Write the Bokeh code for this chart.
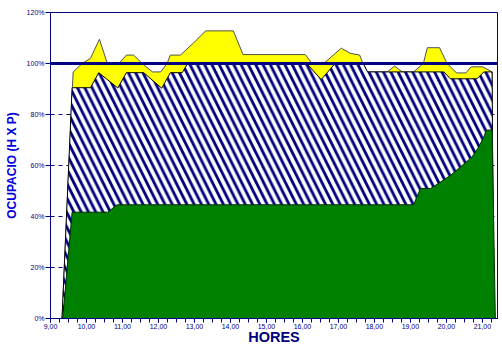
from bokeh.plotting import figure
from bokeh.models import FixedTicker, SingleIntervalTicker, Span, Range1d
from bokeh.embed import file_html
from bokeh.resources import INLINE

# ---- data (hours of day, occupancy %) ----
yellow_hours = [9.32, 9.61, 9.63, 9.88, 10.11, 10.36, 10.58, 10.90, 11.11, 11.31, 11.55,
                11.83, 12.06, 12.24, 12.33, 12.61, 12.97, 13.31, 14.08, 14.35, 16.08,
                16.27, 16.59, 17.08, 17.33, 17.59, 17.68, 17.80, 18.36, 18.56, 18.77,
                19.09, 19.36, 19.47, 19.81, 20.02, 20.28, 20.54, 20.69, 21.01, 21.27, 21.31]
yellow_pct = [0, 91, 96.7, 100, 102, 109.5, 100, 100, 103.3, 103.3, 100,
              96.7, 96.7, 100, 103.3, 103.3, 108, 112.8, 112.8, 103.5, 103.5,
              100, 100, 106, 104, 103.3, 100, 96.7, 96.7, 99, 96.7,
              96.7, 100, 106.2, 106.2, 100, 96.3, 96.3, 98.7, 98.7, 96.7, 0]

hatched_hours = [9.32, 9.60, 10.11, 10.34, 10.87, 11.11, 11.59, 12.09, 12.33, 12.66, 12.81,
                 16.12, 16.52, 16.91, 17.69, 17.81, 19.93, 20.11, 20.85, 21.04, 21.27, 21.31]
hatched_pct = [0, 90.5, 90.5, 96.4, 90.4, 96.4, 96.4, 90.3, 96.4, 96.4, 100,
               100, 93.7, 100, 100, 96.7, 96.7, 94, 94, 96.7, 96.7, 0]

green_hours = [9.34, 9.60, 10.59, 10.85, 19.09, 19.28, 19.56, 19.74, 20.11, 20.39,
               20.71, 20.90, 21.04, 21.11, 21.27, 21.36]
green_pct = [0, 41.7, 41.7, 44.6, 44.6, 51, 51, 52.6, 56.1, 59.4,
             63.3, 67.3, 71.2, 73.8, 74, 0]

x_ticks = [9, 10, 11, 12, 13, 14, 15, 16, 17, 18, 19, 20, 21]
x_tick_labels = ["9,00", "10,00", "11,00", "12,00", "13,00", "14,00", "15,00",
                 "16,00", "17,00", "18,00", "19,00", "20,00", "21,00"]
y_ticks = [0, 20, 40, 60, 80, 100, 120]
y_tick_labels = ["0%", "20%", "40%", "60%", "80%", "100%", "120%"]
grid_levels = [20, 40, 60, 80]
limit_level = 100

NAVY = "#000080"
FONT = "Liberation Sans"

p = figure(width=502, height=347, output_backend="svg", toolbar_location=None,
           x_range=Range1d(9.0, 21.42), y_range=Range1d(0, 120),
           min_border_left=50, min_border_right=5, min_border_top=12, min_border_bottom=10)
p.background_fill_color = "white"
p.border_fill_color = "white"
p.outline_line_color = NAVY
p.outline_line_width = 1

# areas
p.patch(yellow_hours, yellow_pct, fill_color="#FFFF00", line_color="#505050", line_width=1)
p.patch(hatched_hours, hatched_pct, fill_color="white", hatch_pattern="left_diagonal_line",
        hatch_color=NAVY, hatch_scale=14.6, hatch_weight=2.8, line_color="black", line_width=1)
p.patch(green_hours, green_pct, fill_color="#008000", line_color="#003000", line_width=1)

p.add_layout(Span(location=limit_level, dimension="width", line_color=NAVY, line_width=3))

# grid
p.xgrid.visible = False
p.ygrid.ticker = FixedTicker(ticks=grid_levels)
p.ygrid.grid_line_color = NAVY
p.ygrid.grid_line_dash = "4 4"
p.ygrid.grid_line_width = 1

# x axis
xa = p.xaxis[0]
xa.ticker = SingleIntervalTicker(interval=1, num_minor_ticks=4)
xa.major_label_overrides = {t: l for t, l in zip(x_ticks, x_tick_labels)}
xa.axis_line_color = NAVY
xa.major_tick_line_color = NAVY
xa.minor_tick_line_color = NAVY
xa.major_tick_in = 0
xa.major_tick_out = 4
xa.minor_tick_in = 0
xa.minor_tick_out = 4
xa.major_label_text_font = FONT
xa.major_label_text_font_size = "7px"
xa.major_label_text_color = NAVY
xa.major_label_standoff = 1
xa.axis_label = "HORES"
xa.axis_label_text_font = FONT
xa.axis_label_text_font_style = "bold"
xa.axis_label_text_font_size = "14.5px"
xa.axis_label_text_color = NAVY
xa.axis_label_standoff = -3

# y axis
ya = p.yaxis[0]
ya.ticker = FixedTicker(ticks=y_ticks)
ya.major_label_overrides = {t: l for t, l in zip(y_ticks, y_tick_labels)}
ya.axis_line_color = NAVY
ya.major_tick_line_color = NAVY
ya.minor_tick_line_color = None
ya.major_tick_in = 0
ya.major_tick_out = 5
ya.major_label_text_font = FONT
ya.major_label_text_font_size = "7px"
ya.major_label_text_color = NAVY
ya.major_label_standoff = 1
ya.axis_label = "OCUPACIO (H X P)"
ya.axis_label_text_font = FONT
ya.axis_label_text_font_style = "bold"
ya.axis_label_text_font_size = "12px"
ya.axis_label_text_color = "#0000DD"
ya.axis_label_standoff = 5

open("out.html", "w").write(file_html(p, INLINE))
